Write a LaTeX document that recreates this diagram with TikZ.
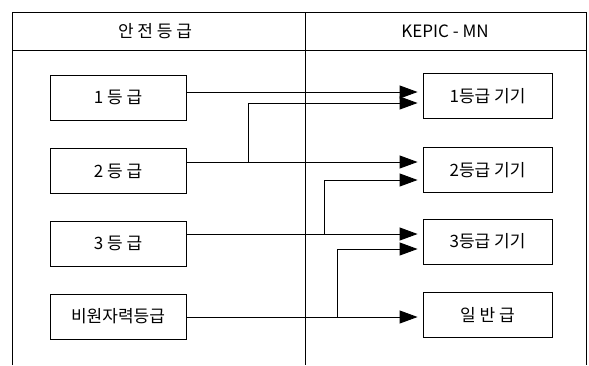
\documentclass[tikz,border=0pt]{standalone}
\usepackage{fontspec}
\setmainfont{Noto Sans CJK KR}
\usetikzlibrary{arrows.meta}
\begin{document}
\begin{tikzpicture}[x=1pt,y=-1pt,
  frame/.style={line width=0.9pt,black},
  lbox/.style={draw,line width=0.9pt,minimum width=136pt,minimum height=45pt,inner sep=0pt,font=\fontsize{17}{19}\selectfont},
  rbox/.style={draw,line width=0.9pt,minimum width=129pt,minimum height=45pt,inner sep=0pt,font=\fontsize{17}{19}\selectfont},
  head/.style={font=\fontsize{17}{19}\selectfont,inner sep=0pt},
  arr/.style={line width=0.9pt,-{Triangle[length=18pt,width=13pt]},shorten >=5pt}]
\useasboundingbox (0,0) rectangle (589,365);
% frame
\draw[frame] (12,365) -- (12,12) -- (586,12) -- (586,365);
\draw[frame] (12,50) -- (586,50);
\draw[frame] (305,12) -- (305,365);
% headers
\node[head] (h1) at (155,31) {안 전 등 급};
\node[head] (h2) at (445,31) {KEPIC - MN};
% left boxes
\node[lbox] (l1) at (118,97.5) {1 등 급};
\node[lbox] (l2) at (118,171) {2 등 급};
\node[lbox] (l3) at (118,243.5) {3 등 급};
\node[lbox] (l4) at (118,316.5) {비원자력등급};
% right boxes
\node[rbox] (r1) at (487.5,96) {1등급 기기};
\node[rbox] (r2) at (487.5,170) {2등급 기기};
\node[rbox] (r3) at (487.5,241.5) {3등급 기기};
\node[rbox] (r4) at (487.5,315) {일 반 급};
% row levels
\coordinate (y1a) at (0,92);
\coordinate (y1b) at (0,103);
\coordinate (y2a) at (0,162);
\coordinate (y2b) at (0,180);
\coordinate (y3a) at (0,234);
\coordinate (y3b) at (0,249);
\coordinate (y4) at (0,317);
% junctions
\coordinate (j2) at (248,162);
\coordinate (j3) at (324,234);
\coordinate (j4) at (337,317);
% connectors
\draw[arr] (l1.east |- y1a) -- (r1.west |- y1a);
\draw[arr] (l2.east |- y2a) -- (r2.west |- y2a);
\draw[arr] (j2) |- (r1.west |- y1b);
\draw[arr] (l3.east |- y3a) -- (r3.west |- y3a);
\draw[arr] (j3) |- (r2.west |- y2b);
\draw[arr] (l4.east |- y4) -- (r4.west |- y4);
\draw[arr] (j4) |- (r3.west |- y3b);
\end{tikzpicture}
\end{document}
